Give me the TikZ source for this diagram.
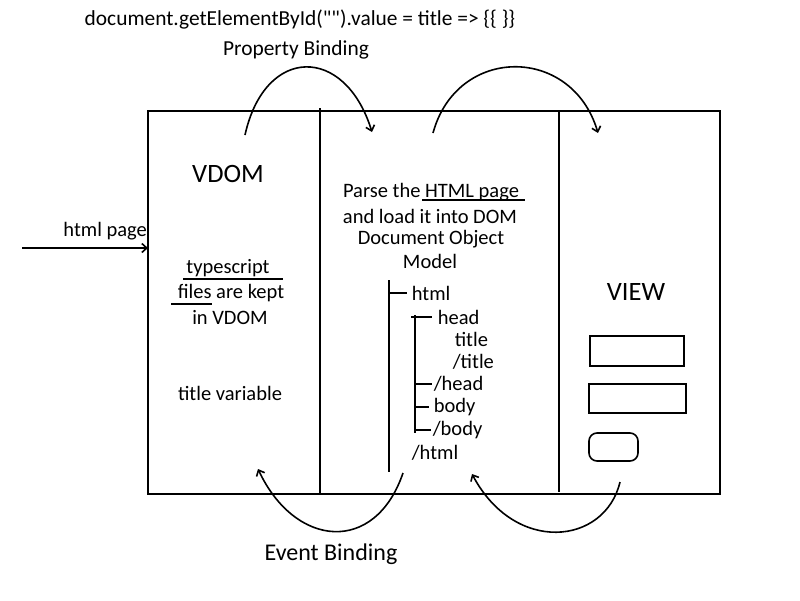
\documentclass[tikz,border=0pt]{standalone}
\usepackage{fontspec}
\setmainfont{Carlito}[Ligatures=TeXOff]
\usetikzlibrary{arrows.meta}

\tikzset{
	txt/.style = {inner sep=0pt, font=\fontsize{20.5}{24}\selectfont},
	big/.style = {inner sep=0pt, font=\fontsize{26.5}{30}\selectfont},
	leaf/.style = {txt, anchor=west},
	bind/.style = {line width=1.6pt, ->},
	field/.style = {draw, line width=1.6pt},
}

\begin{document}
\begin{tikzpicture}[x=1pt, y=1pt, > = {Straight Barb[length=5pt, width=9pt]}, line width=1.6pt]
	\useasboundingbox (0,0) rectangle (800,-600);

	% frame and the three columns
	\draw (148,-111) rectangle (720,-494);
	\draw (320,-108) -- (320,-495); % VDOM | DOM
	\draw (559,-111) -- (559,-492); % DOM | VIEW

	% texts on top
	\node[txt, font=\fontsize{21.4}{24}\selectfont] (code) at (300,-20) {document.getElementById("").value = title => \{\{ \}\}};
	\node[txt, font=\fontsize{21.4}{24}\selectfont] (prop) at (296,-50) {Property Binding};
	\node[txt, font=\fontsize{24}{28}\selectfont] (event) at (331,-554) {Event Binding};

	% input arrow
	\coordinate (in) at (22,-248);
	\coordinate (inend) at (148,-248);
	\draw[->] (in) -- (inend) node[txt, pos=0.66, above=7pt] (inlbl) {html page};

	% VDOM column
	\node[big] (vdom) at (228,-174) {VDOM};
	\node[txt] (ts1) at (228,-268) {typescript};
	\node[txt] (ts2) at (231,-293) {files are kept};
	\node[txt] (ts3) at (230,-318) {in VDOM};
	\draw (183,-279) -- (283,-279); % underline typescript
	\draw (171,-304) -- (212,-304); % underline files
	\node[txt] (var) at (230,-393) {title variable};

	% DOM column
	\node[txt] (p1) at (431,-192) {Parse the HTML page};
	\node[txt] (p2) at (430,-216) {and load it into DOM};
	\node[txt] (p3) at (431,-239) {Document Object};
	\node[txt] (p4) at (430,-261) {Model};
	\draw (422,-200) -- (525,-200); % underline HTML page

	% DOM tree
	\draw (389,-280) -- (389,-472);
	\draw (389,-293) -- (407,-293);
	\node[leaf] (html) at (411,-293) {html};
	\draw (415,-315) -- (415,-433);
	\draw (411,-317) -- (432,-317);
	\node[leaf] (head) at (437,-317) {head};
	\node[leaf] (title) at (454,-339) {title};
	\node[leaf] (etitle) at (452,-362) {/title};
	\draw (415,-384) -- (432,-384);
	\node[leaf] (ehead) at (433,-384) {/head};
	\draw (415,-407) -- (429,-407);
	\node[leaf] (body) at (433,-407) {body};
	\draw (415,-430) -- (431,-430);
	\node[leaf] (ebody) at (432,-430) {/body};
	\node[leaf] (ehtml) at (411,-453) {/html};

	% VIEW column
	\node[big] (view) at (636,-292) {VIEW};
	\node[field, minimum width=94pt, minimum height=30pt] (box1) at (637,-351) {};
	\node[field, minimum width=97pt, minimum height=29pt] (box2) at (637.5,-398.5) {};
	\node[field, rounded corners=8pt, minimum width=49pt, minimum height=28pt] (btn) at (613.5,-447) {};

	% property binding arcs
	\coordinate (a1) at (245,-135);
	\coordinate (b1) at (372,-132);
	\coordinate (a2) at (433,-133);
	\coordinate (b2) at (598,-133);
	\draw[bind] (a1) .. controls (265,-45) and (345,-45) .. (b1);
	\draw[bind] (a2) .. controls (457,-45) and (572,-45) .. (b2);

	% event binding arcs
	\coordinate (c1) at (403,-473);
	\coordinate (d1) at (258,-469);
	\coordinate (c2) at (620,-482);
	\coordinate (d2) at (472,-474);
	\draw[bind] (c1) .. controls (375,-555) and (295,-548) .. (d1);
	\draw[bind] (c2) .. controls (605,-545) and (515,-555) .. (d2);
\end{tikzpicture}
\end{document}
